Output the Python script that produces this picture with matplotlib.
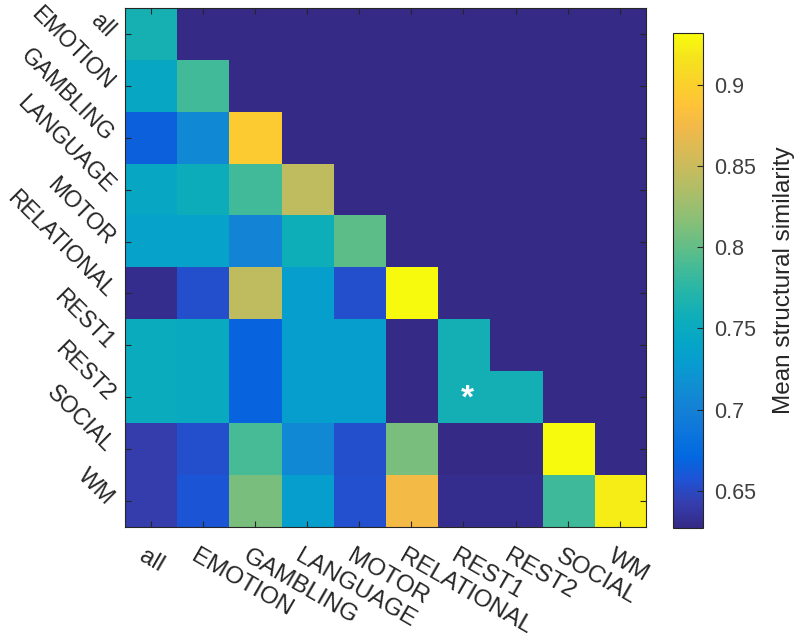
import numpy as np
import matplotlib
matplotlib.use("Agg")
import matplotlib.pyplot as plt
import matplotlib.transforms as mtransforms
from matplotlib.colors import LinearSegmentedColormap

tasks = ['all', 'EMOTION', 'GAMBLING', 'LANGUAGE', 'MOTOR', 'RELATIONAL',
         'REST1', 'REST2', 'SOCIAL', 'WM']

# lower triangle of mean structural similarity, row by row
rows = [
    [0.764],
    [0.746, 0.786],
    [0.666, 0.709, 0.895],
    [0.746, 0.755, 0.786, 0.844],
    [0.737, 0.737, 0.703, 0.758, 0.798],
    [0.630, 0.654, 0.844, 0.731, 0.654, 0.932],
    [0.752, 0.749, 0.668, 0.731, 0.731, 0.628, 0.761],
    [0.752, 0.749, 0.668, 0.731, 0.731, 0.628, 0.761, 0.761],
    [0.642, 0.654, 0.789, 0.709, 0.654, 0.810, 0.628, 0.628, 0.932],
    [0.642, 0.658, 0.810, 0.731, 0.655, 0.877, 0.630, 0.630, 0.785, 0.923],
]
star_cell = (7, 6)  # (row, col) marked with *

vmin, vmax = 0.627, 0.932
cbar_ticks = [0.65, 0.7, 0.75, 0.8, 0.85, 0.9]

# parula-ish colormap (every 3rd entry of the 64 colour table)
parula = [
    (0.2081, 0.1663, 0.5292), (0.2081, 0.2386, 0.6771), (0.1253, 0.3242, 0.8303),
    (0.0060, 0.4086, 0.8828), (0.0498, 0.4586, 0.8641), (0.0779, 0.5040, 0.8384),
    (0.0641, 0.5570, 0.8240), (0.0265, 0.6137, 0.8135), (0.0228, 0.6535, 0.7768),
    (0.0590, 0.6838, 0.7254), (0.1453, 0.7098, 0.6646), (0.2586, 0.7317, 0.5954),
    (0.3953, 0.7459, 0.5244), (0.5300, 0.7491, 0.4661), (0.6473, 0.7456, 0.4188),
    (0.7525, 0.7384, 0.3768), (0.8507, 0.7299, 0.3360), (0.9450, 0.7261, 0.2886),
    (0.9990, 0.7653, 0.2164), (0.9789, 0.8271, 0.1633), (0.9589, 0.8949, 0.1132),
    (0.9763, 0.9831, 0.0538)]
cmap = LinearSegmentedColormap.from_list('parula', parula)

n = len(tasks)
M = np.full((n, n), vmin)
for i, r in enumerate(rows):
    M[i, :len(r)] = r

plt.rcParams['font.family'] = ['Liberation Sans', 'DejaVu Sans']
fig = plt.figure(figsize=(8, 6.39), dpi=100)
ax = fig.add_axes([0.156, 0.1753, 0.6513, 0.8122])
im = ax.imshow(M, cmap=cmap, vmin=vmin, vmax=vmax, aspect='auto',
               interpolation='nearest')

ax.text(star_cell[1] + 0.07, star_cell[0] + 0.03, '*', color='white',
        fontsize=24, ha='center', va='center', fontweight='bold')

ax.set_xticks(range(n))
ax.set_yticks(range(n))
ax.set_xticklabels(tasks, rotation=-30, ha='left', va='top',
                   rotation_mode='anchor', fontsize=17.5, color='0.15')
ax.set_yticklabels(tasks, rotation=-45, ha='right', va='center',
                   rotation_mode='anchor', fontsize=16.5, color='0.15')
ax.tick_params(direction='in', length=4, width=0.8, color='0.15',
               top=True, right=True)
ax.tick_params(axis='x', pad=13.5)
ax.tick_params(axis='y', pad=10.5)
shift = mtransforms.ScaledTranslation(-4.5 / 100, 0, fig.dpi_scale_trans)
for lab in ax.get_xticklabels():
    lab.set_transform(lab.get_transform() + shift)
for s in ax.spines.values():
    s.set_color('0.15')
    s.set_linewidth(0.8)

cax = fig.add_axes([0.841, 0.1737, 0.0375, 0.7746])
cb = fig.colorbar(im, cax=cax, ticks=cbar_ticks)
cb.ax.set_yticklabels(['0.65', '0.7', '0.75', '0.8', '0.85', '0.9'])
cb.ax.tick_params(direction='in', length=4, width=0.8, labelsize=15.5,
                  colors='0.15', labelcolor='0.25', pad=8)
cb.outline.set_edgecolor('0.15')
cb.outline.set_linewidth(0.8)
cb.set_label('Mean structural similarity', fontsize=17.5, color='0.15',
             labelpad=12)

fig.savefig('out.png', dpi=100)
